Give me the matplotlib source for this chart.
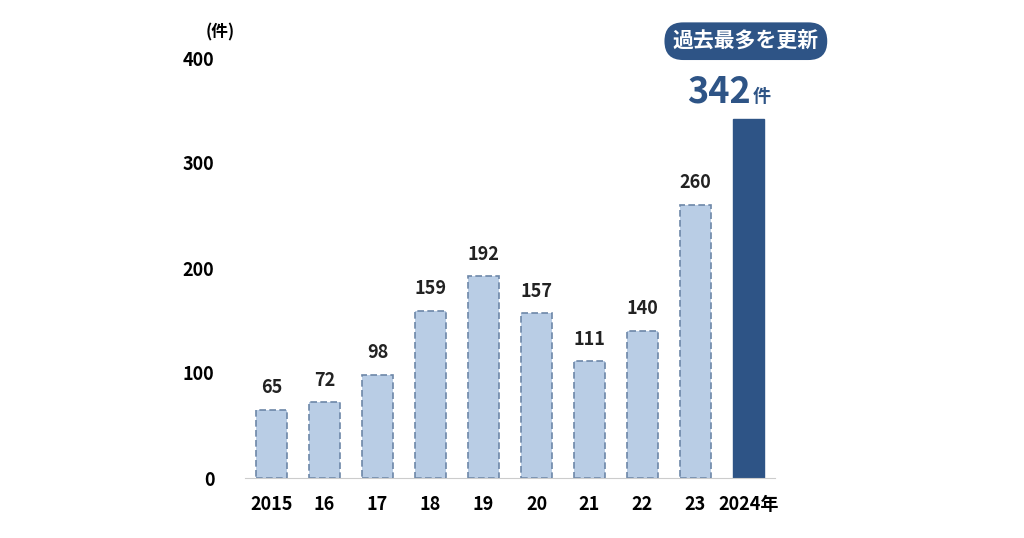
import matplotlib
matplotlib.use("Agg")
import matplotlib.pyplot as plt

plt.rcParams['font.family'] = ['Noto Sans CJK JP', 'DejaVu Sans']

labels = ["2015", "16", "17", "18", "19", "20", "21", "22", "23", "2024年"]
values = [65, 72, 98, 159, 192, 157, 111, 140, 260, 342]

fig = plt.figure(figsize=(10.24, 5.38), dpi=100)
ax = fig.add_axes([245/1024, 1-478/538, 530/1024, 420/538])
x = list(range(len(values)))
ax.bar(x[:9], values[:9], width=0.6, color="#b9cde5", edgecolor="#6d87a8",
       linestyle=(0, (4, 2)), linewidth=1.2)
ax.bar(x[9:], values[9:], width=0.6, color="#2e5486", edgecolor="#2e5486")
ax.set_ylim(0, 400)
ax.set_xlim(-0.5, 9.5)
for i, v in enumerate(values[:9]):
    ax.text(i, v + 12, str(v), ha="center", va="bottom", fontsize=13, fontweight="bold", color="#222222")
ax.text(9.05, 342 + 8, "342", ha="right", va="bottom", fontsize=26, fontweight="bold", color="#2e5486")
ax.text(9.08, 342 + 12, "件", ha="left", va="bottom", fontsize=13, fontweight="bold", color="#2e5486")
ax.text(8.95, 416, "過去最多を更新", ha="center", va="center", fontsize=15, fontweight="bold",
        color="white", clip_on=False,
        bbox=dict(boxstyle="round,pad=0.4,rounding_size=0.9", fc="#2e5486", ec="none"))
ax.set_yticks([0, 100, 200, 300, 400])
ax.set_yticklabels(["0", "100", "200", "300", "400"], fontsize=13, fontweight="bold")
ax.set_xticks(x)
ax.set_xticklabels(labels, fontsize=13, fontweight="bold")
ax.tick_params(length=0, pad=12)
ax.tick_params(axis='y', pad=22)
for s in ["top", "right", "left"]:
    ax.spines[s].set_visible(False)
ax.spines["bottom"].set_color("#cccccc")
ax.text(-0.02, 1.05, "(件)", transform=ax.transAxes, ha="right", fontsize=12, fontweight="bold")
fig.savefig("out.png", dpi=100)
